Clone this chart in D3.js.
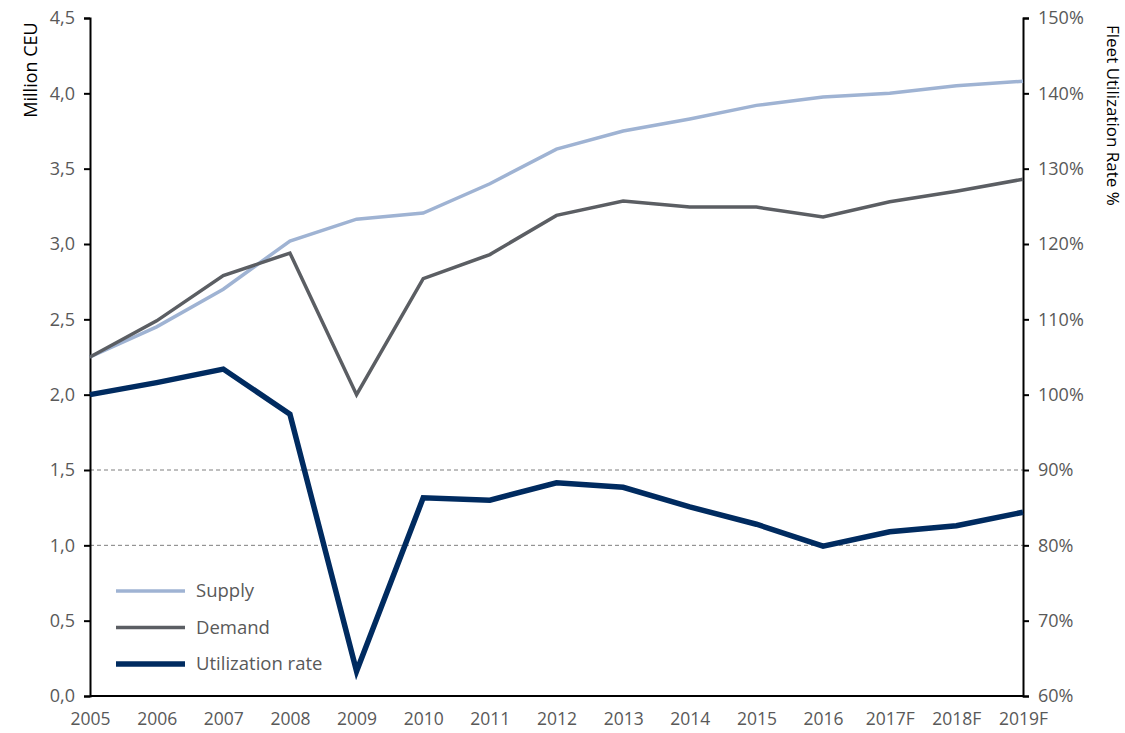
<!DOCTYPE html>
<html>
<head>
<meta charset="utf-8">
<script src="https://cdn.jsdelivr.net/npm/d3@7"></script>
<style>
  body { margin: 0; background: #fff; }
  svg text { font-family: "Open Sans", "Noto Sans", sans-serif; }
</style>
</head>
<body>
<div id="chart"></div>
<script>
var years = ['2005', '2006', '2007', '2008', '2009', '2010', '2011', '2012', '2013', '2014', '2015', '2016', '2017F', '2018F', '2019F'];
var supply = [2.25, 2.45, 2.70, 3.02, 3.165, 3.205, 3.40, 3.63, 3.75, 3.83, 3.92, 3.975, 4.00, 4.05, 4.08];
var demand = [2.25, 2.49, 2.79, 2.94, 2.00, 2.77, 2.93, 3.19, 3.285, 3.245, 3.245, 3.18, 3.28, 3.35, 3.43];
var utilization = [100, 101.6, 103.4, 97.4, 63.3, 86.3, 86.0, 88.3, 87.7, 85.1, 82.8, 79.9, 81.8, 82.6, 84.4];
var leftTicks = [0, 0.5, 1, 1.5, 2, 2.5, 3, 3.5, 4, 4.5];
var rightTicks = [60, 70, 80, 90, 100, 110, 120, 130, 140, 150];
var refLines = [1.0, 1.5];

var width = 1125, height = 733;
var margin = {top: 18, right: 102, bottom: 37, left: 90};

var svg = d3.select('#chart')
  .append('svg')
  .attr('width', width)
  .attr('height', height);

var x = d3.scalePoint().domain(years).range([margin.left, width - margin.right]);
var yL = d3.scaleLinear().domain([0, 4.5]).range([height - margin.bottom, margin.top]);
var yR = d3.scaleLinear().domain([60, 150]).range([height - margin.bottom, margin.top]);

var grey = '#595959';
var fmtL = function(d) { return d3.format('.1f')(d).replace('.', ','); };

// dashed reference lines
svg.selectAll('.ref')
  .data(refLines)
  .enter().append('line')
  .attr('x1', margin.left).attr('x2', width - margin.right)
  .attr('y1', function(d) { return yL(d); })
  .attr('y2', function(d) { return yL(d); })
  .attr('stroke', '#7f7f7f')
  .attr('stroke-width', 1)
  .attr('stroke-dasharray', '4,3');

// axes
var axL = svg.append('g')
  .attr('transform', 'translate(' + margin.left + ',0)')
  .call(d3.axisLeft(yL).tickValues(leftTicks).tickFormat(fmtL).tickSize(6).tickPadding(9));
var axR = svg.append('g')
  .attr('transform', 'translate(' + (width - margin.right) + ',0)')
  .call(d3.axisRight(yR).tickValues(rightTicks).tickFormat(function(d) { return d + '%'; }).tickSize(6).tickPadding(9));
var axB = svg.append('g')
  .attr('transform', 'translate(0,' + (height - margin.bottom) + ')')
  .call(d3.axisBottom(x).tickSize(0).tickPadding(17));

[axL, axR, axB].forEach(function(a) {
  a.select('.domain').attr('stroke', '#000').attr('stroke-width', 2);
  a.selectAll('.tick line').attr('stroke', '#000').attr('stroke-width', 2);
  a.selectAll('.tick text').attr('fill', grey).attr('font-size', 18);
});
axB.selectAll('.tick text').attr('font-size', 17.5);
axB.select('.domain').attr('d', 'M' + margin.left + ',0H' + (width - margin.right));

// axis titles
svg.append('text')
  .attr('transform', 'translate(37,70) rotate(-90)')
  .attr('text-anchor', 'middle')
  .attr('font-size', 18)
  .attr('fill', '#000')
  .text('Million CEU');
svg.append('text')
  .attr('transform', 'translate(1107,25) rotate(90)')
  .attr('text-anchor', 'start')
  .attr('font-size', 17)
  .attr('fill', '#000')
  .text('Fleet Utilization Rate %');

// lines
var lineL = d3.line().x(function(d, i) { return x(years[i]); }).y(function(d) { return yL(d); });
var lineR = d3.line().x(function(d, i) { return x(years[i]); }).y(function(d) { return yR(d); });

var series = [
  {name: 'Supply', values: supply, line: lineL, color: '#9fb3d3', w: 3.5},
  {name: 'Demand', values: demand, line: lineL, color: '#5b5e63', w: 3.5},
  {name: 'Utilization rate', values: utilization, line: lineR, color: '#002b60', w: 5.5}
];

series.forEach(function(s) {
  svg.append('path')
    .datum(s.values)
    .attr('fill', 'none')
    .attr('stroke', s.color)
    .attr('stroke-width', s.w)
    .attr('stroke-linejoin', 'miter')
    .attr('d', s.line);
});

// legend
var legend = svg.append('g').attr('transform', 'translate(116,591)');
series.forEach(function(s, i) {
  var g = legend.append('g').attr('transform', 'translate(0,' + (i * 36.5) + ')');
  g.append('line')
    .attr('x1', 0).attr('x2', 69)
    .attr('stroke', s.color)
    .attr('stroke-width', s.w);
  g.append('text')
    .attr('x', 80).attr('y', 6)
    .attr('font-size', 18.5)
    .attr('fill', grey)
    .text(s.name);
});
</script>
</body>
</html>
